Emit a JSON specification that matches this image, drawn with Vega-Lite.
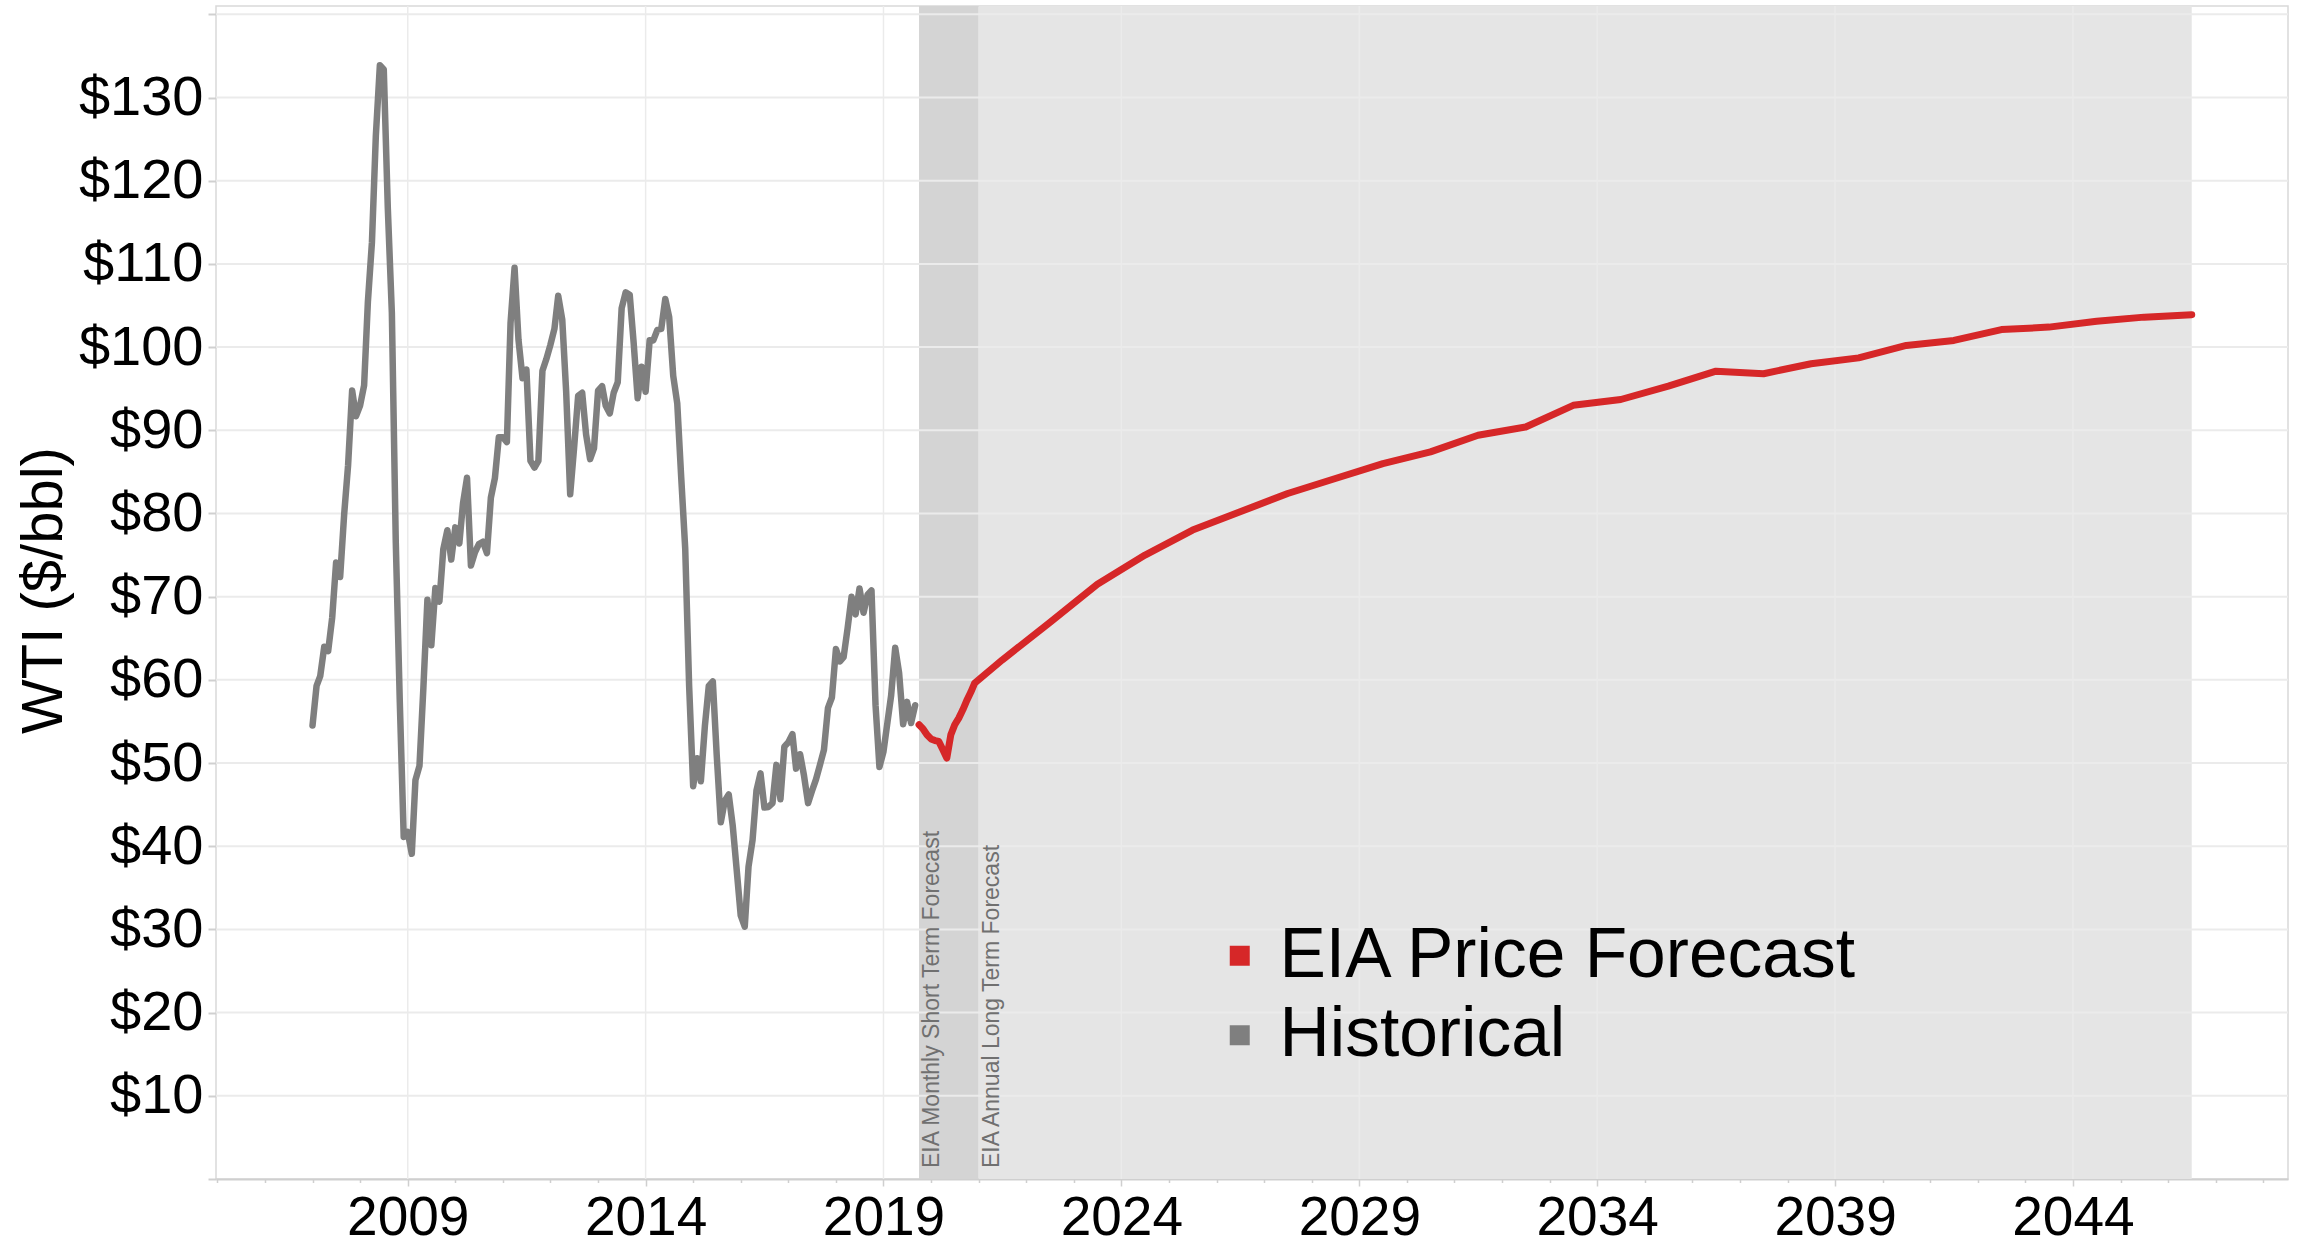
{
  "$schema": "https://vega.github.io/schema/vega-lite/v6.json",
  "width": 2072,
  "height": 1173,
  "autosize": {"type": "none"},
  "padding": {"left": 216, "top": 6, "right": 12, "bottom": 68},
  "background": "white",
  "config": {"font": "Liberation Sans", "view": {"stroke": "#d9d9d9", "strokeWidth": 1.5}},
  "datasets": {
    "bands": [
      {"start": "2019-10-01", "end": "2021-01-01", "band": "short", "label": "EIA Monthly Short Term Forecast"},
      {"start": "2021-01-01", "end": "2046-07-01", "band": "long", "label": "EIA Annual Long Term Forecast"}
    ],
    "hgrid": [{"v": 10}, {"v": 20}, {"v": 30}, {"v": 40}, {"v": 50}, {"v": 60}, {"v": 70}, {"v": 80}, {"v": 90}, {"v": 100}, {"v": 110}, {"v": 120}, {"v": 130}, {"v": 140}],
    "vgrid": [{"d": "2009-01-01"}, {"d": "2014-01-01"}, {"d": "2019-01-01"}, {"d": "2024-01-01"}, {"d": "2029-01-01"}, {"d": "2034-01-01"}, {"d": "2039-01-01"}, {"d": "2044-01-01"}],
    "prices": [
      {"d": "2007-01-01", "p": 54.51, "s": "Historical"}, {"d": "2007-02-01", "p": 59.28, "s": "Historical"}, {"d": "2007-03-01", "p": 60.44, "s": "Historical"}, {"d": "2007-04-01", "p": 63.98, "s": "Historical"}, {"d": "2007-05-01", "p": 63.45, "s": "Historical"}, {"d": "2007-06-01", "p": 67.49, "s": "Historical"}, {"d": "2007-07-01", "p": 74.12, "s": "Historical"}, {"d": "2007-08-01", "p": 72.36, "s": "Historical"}, {"d": "2007-09-01", "p": 79.92, "s": "Historical"}, {"d": "2007-10-01", "p": 85.8, "s": "Historical"}, {"d": "2007-11-01", "p": 94.77, "s": "Historical"}, {"d": "2007-12-01", "p": 91.69, "s": "Historical"},
      {"d": "2008-01-01", "p": 92.97, "s": "Historical"}, {"d": "2008-02-01", "p": 95.39, "s": "Historical"}, {"d": "2008-03-01", "p": 105.45, "s": "Historical"}, {"d": "2008-04-01", "p": 112.58, "s": "Historical"}, {"d": "2008-05-01", "p": 125.4, "s": "Historical"}, {"d": "2008-06-01", "p": 133.88, "s": "Historical"}, {"d": "2008-07-01", "p": 133.37, "s": "Historical"}, {"d": "2008-08-01", "p": 116.67, "s": "Historical"}, {"d": "2008-09-01", "p": 104.11, "s": "Historical"}, {"d": "2008-10-01", "p": 76.61, "s": "Historical"}, {"d": "2008-11-01", "p": 57.31, "s": "Historical"}, {"d": "2008-12-01", "p": 41.12, "s": "Historical"},
      {"d": "2009-01-01", "p": 41.71, "s": "Historical"}, {"d": "2009-02-01", "p": 39.09, "s": "Historical"}, {"d": "2009-03-01", "p": 47.94, "s": "Historical"}, {"d": "2009-04-01", "p": 49.65, "s": "Historical"}, {"d": "2009-05-01", "p": 59.03, "s": "Historical"}, {"d": "2009-06-01", "p": 69.64, "s": "Historical"}, {"d": "2009-07-01", "p": 64.15, "s": "Historical"}, {"d": "2009-08-01", "p": 71.05, "s": "Historical"}, {"d": "2009-09-01", "p": 69.41, "s": "Historical"}, {"d": "2009-10-01", "p": 75.72, "s": "Historical"}, {"d": "2009-11-01", "p": 77.99, "s": "Historical"}, {"d": "2009-12-01", "p": 74.47, "s": "Historical"},
      {"d": "2010-01-01", "p": 78.33, "s": "Historical"}, {"d": "2010-02-01", "p": 76.39, "s": "Historical"}, {"d": "2010-03-01", "p": 81.2, "s": "Historical"}, {"d": "2010-04-01", "p": 84.29, "s": "Historical"}, {"d": "2010-05-01", "p": 73.74, "s": "Historical"}, {"d": "2010-06-01", "p": 75.34, "s": "Historical"}, {"d": "2010-07-01", "p": 76.32, "s": "Historical"}, {"d": "2010-08-01", "p": 76.6, "s": "Historical"}, {"d": "2010-09-01", "p": 75.24, "s": "Historical"}, {"d": "2010-10-01", "p": 81.89, "s": "Historical"}, {"d": "2010-11-01", "p": 84.25, "s": "Historical"}, {"d": "2010-12-01", "p": 89.15, "s": "Historical"},
      {"d": "2011-01-01", "p": 89.17, "s": "Historical"}, {"d": "2011-02-01", "p": 88.58, "s": "Historical"}, {"d": "2011-03-01", "p": 102.86, "s": "Historical"}, {"d": "2011-04-01", "p": 109.53, "s": "Historical"}, {"d": "2011-05-01", "p": 100.9, "s": "Historical"}, {"d": "2011-06-01", "p": 96.26, "s": "Historical"}, {"d": "2011-07-01", "p": 97.3, "s": "Historical"}, {"d": "2011-08-01", "p": 86.33, "s": "Historical"}, {"d": "2011-09-01", "p": 85.52, "s": "Historical"}, {"d": "2011-10-01", "p": 86.32, "s": "Historical"}, {"d": "2011-11-01", "p": 97.16, "s": "Historical"}, {"d": "2011-12-01", "p": 98.56, "s": "Historical"},
      {"d": "2012-01-01", "p": 100.27, "s": "Historical"}, {"d": "2012-02-01", "p": 102.2, "s": "Historical"}, {"d": "2012-03-01", "p": 106.16, "s": "Historical"}, {"d": "2012-04-01", "p": 103.32, "s": "Historical"}, {"d": "2012-05-01", "p": 94.66, "s": "Historical"}, {"d": "2012-06-01", "p": 82.3, "s": "Historical"}, {"d": "2012-07-01", "p": 87.9, "s": "Historical"}, {"d": "2012-08-01", "p": 94.13, "s": "Historical"}, {"d": "2012-09-01", "p": 94.51, "s": "Historical"}, {"d": "2012-10-01", "p": 89.49, "s": "Historical"}, {"d": "2012-11-01", "p": 86.53, "s": "Historical"}, {"d": "2012-12-01", "p": 87.86, "s": "Historical"},
      {"d": "2013-01-01", "p": 94.76, "s": "Historical"}, {"d": "2013-02-01", "p": 95.31, "s": "Historical"}, {"d": "2013-03-01", "p": 92.94, "s": "Historical"}, {"d": "2013-04-01", "p": 92.02, "s": "Historical"}, {"d": "2013-05-01", "p": 94.51, "s": "Historical"}, {"d": "2013-06-01", "p": 95.77, "s": "Historical"}, {"d": "2013-07-01", "p": 104.67, "s": "Historical"}, {"d": "2013-08-01", "p": 106.57, "s": "Historical"}, {"d": "2013-09-01", "p": 106.29, "s": "Historical"}, {"d": "2013-10-01", "p": 100.54, "s": "Historical"}, {"d": "2013-11-01", "p": 93.86, "s": "Historical"}, {"d": "2013-12-01", "p": 97.63, "s": "Historical"},
      {"d": "2014-01-01", "p": 94.62, "s": "Historical"}, {"d": "2014-02-01", "p": 100.82, "s": "Historical"}, {"d": "2014-03-01", "p": 100.8, "s": "Historical"}, {"d": "2014-04-01", "p": 102.07, "s": "Historical"}, {"d": "2014-05-01", "p": 102.18, "s": "Historical"}, {"d": "2014-06-01", "p": 105.79, "s": "Historical"}, {"d": "2014-07-01", "p": 103.59, "s": "Historical"}, {"d": "2014-08-01", "p": 96.54, "s": "Historical"}, {"d": "2014-09-01", "p": 93.21, "s": "Historical"}, {"d": "2014-10-01", "p": 84.4, "s": "Historical"}, {"d": "2014-11-01", "p": 75.79, "s": "Historical"}, {"d": "2014-12-01", "p": 59.29, "s": "Historical"},
      {"d": "2015-01-01", "p": 47.22, "s": "Historical"}, {"d": "2015-02-01", "p": 50.58, "s": "Historical"}, {"d": "2015-03-01", "p": 47.82, "s": "Historical"}, {"d": "2015-04-01", "p": 54.45, "s": "Historical"}, {"d": "2015-05-01", "p": 59.27, "s": "Historical"}, {"d": "2015-06-01", "p": 59.82, "s": "Historical"}, {"d": "2015-07-01", "p": 50.9, "s": "Historical"}, {"d": "2015-08-01", "p": 42.87, "s": "Historical"}, {"d": "2015-09-01", "p": 45.48, "s": "Historical"}, {"d": "2015-10-01", "p": 46.22, "s": "Historical"}, {"d": "2015-11-01", "p": 42.44, "s": "Historical"}, {"d": "2015-12-01", "p": 37.19, "s": "Historical"},
      {"d": "2016-01-01", "p": 31.68, "s": "Historical"}, {"d": "2016-02-01", "p": 30.32, "s": "Historical"}, {"d": "2016-03-01", "p": 37.55, "s": "Historical"}, {"d": "2016-04-01", "p": 40.75, "s": "Historical"}, {"d": "2016-05-01", "p": 46.71, "s": "Historical"}, {"d": "2016-06-01", "p": 48.76, "s": "Historical"}, {"d": "2016-07-01", "p": 44.65, "s": "Historical"}, {"d": "2016-08-01", "p": 44.72, "s": "Historical"}, {"d": "2016-09-01", "p": 45.18, "s": "Historical"}, {"d": "2016-10-01", "p": 49.78, "s": "Historical"}, {"d": "2016-11-01", "p": 45.66, "s": "Historical"}, {"d": "2016-12-01", "p": 51.97, "s": "Historical"},
      {"d": "2017-01-01", "p": 52.5, "s": "Historical"}, {"d": "2017-02-01", "p": 53.47, "s": "Historical"}, {"d": "2017-03-01", "p": 49.33, "s": "Historical"}, {"d": "2017-04-01", "p": 51.06, "s": "Historical"}, {"d": "2017-05-01", "p": 48.48, "s": "Historical"}, {"d": "2017-06-01", "p": 45.18, "s": "Historical"}, {"d": "2017-07-01", "p": 46.63, "s": "Historical"}, {"d": "2017-08-01", "p": 48.04, "s": "Historical"}, {"d": "2017-09-01", "p": 49.82, "s": "Historical"}, {"d": "2017-10-01", "p": 51.58, "s": "Historical"}, {"d": "2017-11-01", "p": 56.64, "s": "Historical"}, {"d": "2017-12-01", "p": 57.88, "s": "Historical"},
      {"d": "2018-01-01", "p": 63.7, "s": "Historical"}, {"d": "2018-02-01", "p": 62.23, "s": "Historical"}, {"d": "2018-03-01", "p": 62.73, "s": "Historical"}, {"d": "2018-04-01", "p": 66.25, "s": "Historical"}, {"d": "2018-05-01", "p": 69.98, "s": "Historical"}, {"d": "2018-06-01", "p": 67.87, "s": "Historical"}, {"d": "2018-07-01", "p": 70.98, "s": "Historical"}, {"d": "2018-08-01", "p": 68.06, "s": "Historical"}, {"d": "2018-09-01", "p": 70.23, "s": "Historical"}, {"d": "2018-10-01", "p": 70.75, "s": "Historical"}, {"d": "2018-11-01", "p": 56.96, "s": "Historical"}, {"d": "2018-12-01", "p": 49.52, "s": "Historical"},
      {"d": "2019-01-01", "p": 51.38, "s": "Historical"}, {"d": "2019-02-01", "p": 54.95, "s": "Historical"}, {"d": "2019-03-01", "p": 58.15, "s": "Historical"}, {"d": "2019-04-01", "p": 63.86, "s": "Historical"}, {"d": "2019-05-01", "p": 60.83, "s": "Historical"}, {"d": "2019-06-01", "p": 54.66, "s": "Historical"}, {"d": "2019-07-01", "p": 57.35, "s": "Historical"}, {"d": "2019-08-01", "p": 54.81, "s": "Historical"}, {"d": "2019-09-01", "p": 56.95, "s": "Historical"},
      {"d": "2019-10-01", "p": 54.6, "s": "EIA Price Forecast"}, {"d": "2019-11-01", "p": 54.1, "s": "EIA Price Forecast"}, {"d": "2019-12-01", "p": 53.4, "s": "EIA Price Forecast"}, {"d": "2020-01-01", "p": 52.9, "s": "EIA Price Forecast"}, {"d": "2020-02-01", "p": 52.7, "s": "EIA Price Forecast"}, {"d": "2020-03-01", "p": 52.6, "s": "EIA Price Forecast"}, {"d": "2020-04-01", "p": 51.6, "s": "EIA Price Forecast"}, {"d": "2020-05-01", "p": 50.6, "s": "EIA Price Forecast"}, {"d": "2020-06-01", "p": 53.4, "s": "EIA Price Forecast"}, {"d": "2020-07-01", "p": 54.6, "s": "EIA Price Forecast"}, {"d": "2020-08-01", "p": 55.4, "s": "EIA Price Forecast"}, {"d": "2020-09-01", "p": 56.4, "s": "EIA Price Forecast"}, {"d": "2020-10-01", "p": 57.5, "s": "EIA Price Forecast"}, {"d": "2020-11-01", "p": 58.5, "s": "EIA Price Forecast"}, {"d": "2020-12-01", "p": 59.6, "s": "EIA Price Forecast"},
      {"d": "2021-07-01", "p": 62.4, "s": "EIA Price Forecast"}, {"d": "2022-07-01", "p": 66.9, "s": "EIA Price Forecast"}, {"d": "2023-07-01", "p": 71.5, "s": "EIA Price Forecast"}, {"d": "2024-07-01", "p": 75.0, "s": "EIA Price Forecast"}, {"d": "2025-07-01", "p": 78.0, "s": "EIA Price Forecast"}, {"d": "2026-07-01", "p": 80.2, "s": "EIA Price Forecast"}, {"d": "2027-07-01", "p": 82.4, "s": "EIA Price Forecast"}, {"d": "2028-07-01", "p": 84.2, "s": "EIA Price Forecast"}, {"d": "2029-07-01", "p": 86.0, "s": "EIA Price Forecast"}, {"d": "2030-07-01", "p": 87.4, "s": "EIA Price Forecast"}, {"d": "2031-07-01", "p": 89.4, "s": "EIA Price Forecast"}, {"d": "2032-07-01", "p": 90.4, "s": "EIA Price Forecast"}, {"d": "2033-07-01", "p": 93.0, "s": "EIA Price Forecast"}, {"d": "2034-07-01", "p": 93.7, "s": "EIA Price Forecast"}, {"d": "2035-07-01", "p": 95.3, "s": "EIA Price Forecast"}, {"d": "2036-07-01", "p": 97.1, "s": "EIA Price Forecast"}, {"d": "2037-07-01", "p": 96.8, "s": "EIA Price Forecast"}, {"d": "2038-07-01", "p": 98.0, "s": "EIA Price Forecast"}, {"d": "2039-07-01", "p": 98.7, "s": "EIA Price Forecast"}, {"d": "2040-07-01", "p": 100.2, "s": "EIA Price Forecast"}, {"d": "2041-07-01", "p": 100.8, "s": "EIA Price Forecast"}, {"d": "2042-07-01", "p": 102.1, "s": "EIA Price Forecast"}, {"d": "2043-07-01", "p": 102.4, "s": "EIA Price Forecast"}, {"d": "2044-07-01", "p": 103.1, "s": "EIA Price Forecast"}, {"d": "2045-07-01", "p": 103.6, "s": "EIA Price Forecast"}, {"d": "2046-07-01", "p": 103.9, "s": "EIA Price Forecast"}
    ]
  },
  "layer": [
    {
      "data": {"name": "bands"},
      "mark": {"type": "rect"},
      "encoding": {
        "x": {
          "field": "start", "type": "temporal",
          "scale": {"type": "utc", "domain": [{"year": 2004, "month": 12, "date": 21, "utc": true}, {"year": 2048, "month": 7, "date": 9, "utc": true}]},
          "axis": {
            "title": null,
            "grid": false,
            "tickCount": {"interval": "year", "step": 1},
            "domain": true, "domainColor": "#cfcfcf", "domainWidth": 2,
            "tickColor": "#cfcfcf", "tickWidth": 1.5,
            "tickSize": {"condition": {"test": "utcyear(datum.value) % 5 == 4", "value": 7}, "value": 3.5},
            "labelExpr": "utcyear(datum.value) % 5 == 4 ? utcFormat(datum.value, '%Y') : ''",
            "labelFontSize": 55, "labelColor": "#000000", "labelPadding": 5,
            "labelOverlap": false, "labelFlush": false
          }
        },
        "x2": {"field": "end"},
        "fill": {"field": "band", "type": "nominal", "scale": {"domain": ["short", "long"], "range": ["#d4d4d4", "#e5e5e5"]}, "legend": null}
      }
    },
    {
      "data": {"name": "hgrid"},
      "mark": {"type": "rule", "color": "#ebebeb", "strokeWidth": 2},
      "encoding": {
        "y": {
          "field": "v", "type": "quantitative",
          "scale": {"domain": [0, 141], "nice": false, "zero": true},
          "axis": {
            "title": "WTI ($/bbl)",
            "values": [0, 10, 20, 30, 40, 50, 60, 70, 80, 90, 100, 110, 120, 130, 140],
            "grid": false, "domain": false,
            "tickColor": "#d0d0d0", "tickWidth": 2, "tickSize": 8,
            "labelExpr": "datum.value >= 10 && datum.value <= 130 ? '$' + datum.value : ''",
            "labelFontSize": 56, "labelColor": "#000000", "labelPadding": 5,
            "labelOverlap": false, "labelFlush": false,
            "titleFontSize": 58, "titleFontWeight": "normal", "titleColor": "#000000",
            "titleAngle": 270, "titleBaseline": "alphabetic", "titleAlign": "center",
            "titleX": -155, "titleY": 584
          }
        }
      }
    },
    {
      "data": {"name": "vgrid"},
      "mark": {"type": "rule", "color": "#ebebeb", "strokeWidth": 1.5},
      "encoding": {"x": {"field": "d", "type": "temporal"}}
    },
    {
      "data": {"name": "prices"},
      "transform": [{"filter": "datum.s == 'Historical'"}],
      "mark": {"type": "line", "strokeWidth": 6.5, "strokeJoin": "round", "strokeCap": "round"},
      "encoding": {
        "x": {"field": "d", "type": "temporal"},
        "y": {"field": "p", "type": "quantitative"},
        "color": {
          "field": "s", "type": "nominal",
          "scale": {"domain": ["EIA Price Forecast", "Historical"], "range": ["#d62728", "#7f7f7f"]},
          "legend": {
            "orient": "none", "legendX": 989, "legendY": 915, "title": null,
            "symbolType": "square", "symbolSize": 400, "symbolStrokeWidth": 0,
            "labelFontSize": 69.5, "labelColor": "#000000", "labelOffset": 5, "labelLimit": 0, "rowPadding": 8.5, "padding": 0,
            "encode": {"symbols": {"update": {"fill": {"scale": "color", "field": "value"}, "opacity": {"value": 1}}}}
          }
        }
      }
    },
    {
      "data": {"name": "prices"},
      "transform": [{"filter": "datum.s == 'EIA Price Forecast'"}],
      "mark": {"type": "line", "strokeWidth": 7, "strokeJoin": "round", "strokeCap": "round"},
      "encoding": {
        "x": {"field": "d", "type": "temporal"},
        "y": {"field": "p", "type": "quantitative"},
        "color": {"field": "s", "type": "nominal"}
      }
    },
    {
      "data": {"name": "bands"},
      "mark": {"type": "text", "angle": 270, "align": "left", "baseline": "alphabetic", "dx": 11, "dy": 20, "fontSize": 23, "color": "#707070"},
      "encoding": {
        "x": {"field": "start", "type": "temporal"},
        "y": {"datum": 0},
        "text": {"field": "label"}
      }
    }
  ]
}
